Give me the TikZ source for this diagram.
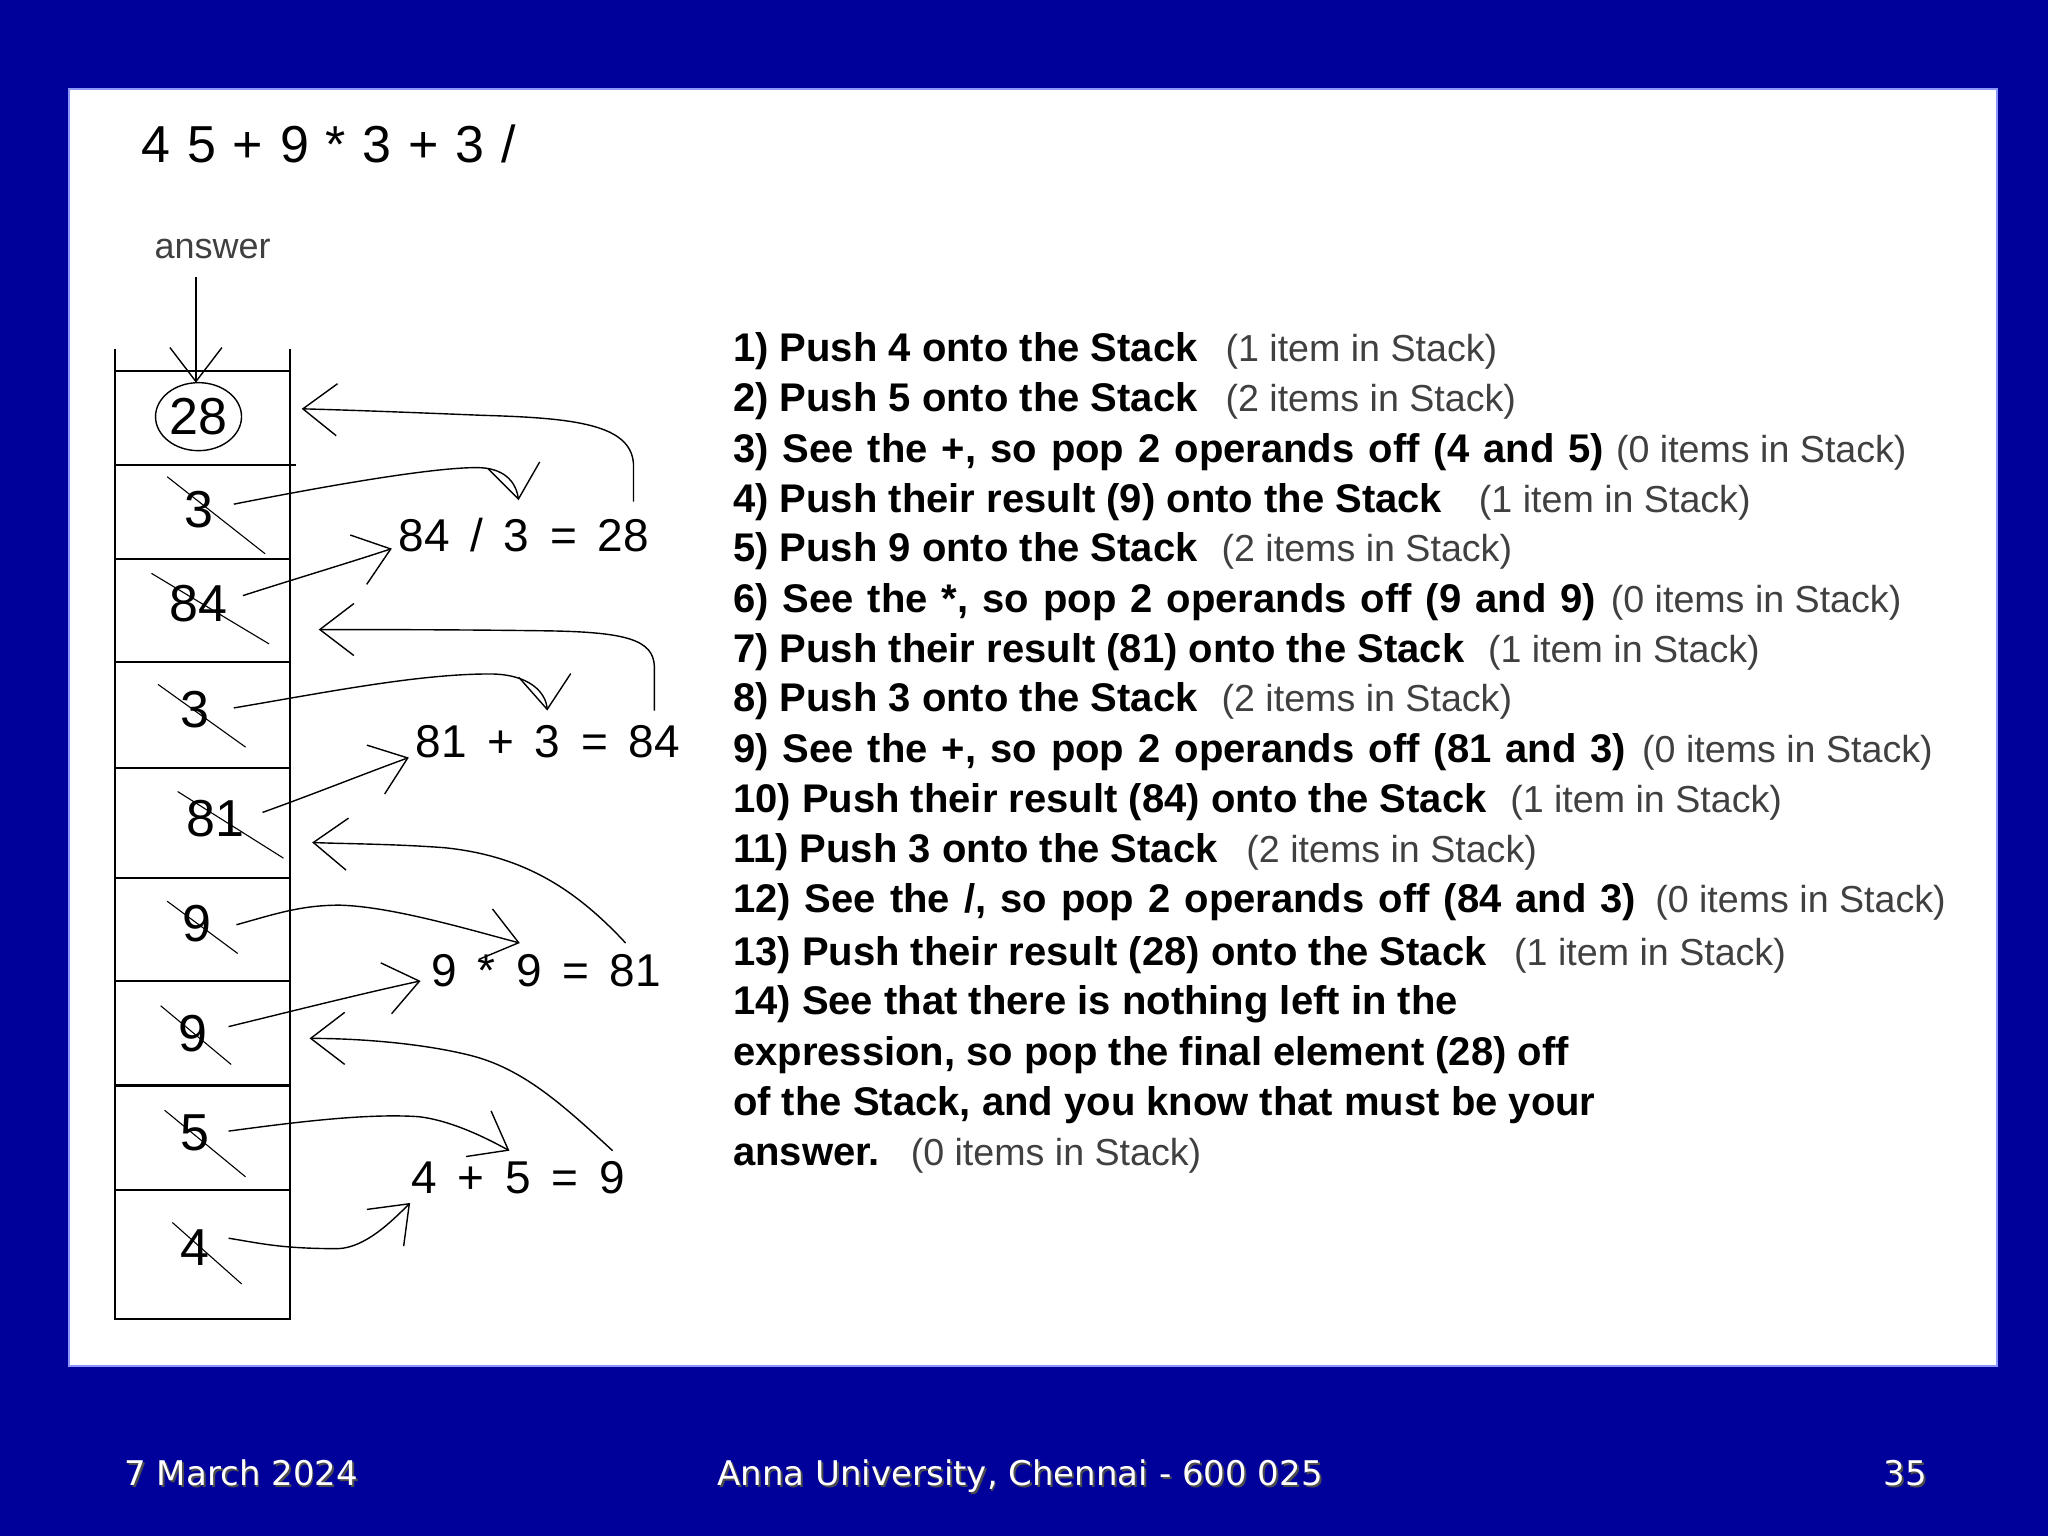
\documentclass[tikz,border=0pt]{standalone}
\usepackage{fontspec}
\setmainfont{Liberation Sans}
\newfontfamily\footfont{DejaVu Sans}
\usetikzlibrary{arrows.meta}
\definecolor{slideblue}{RGB}{0,0,155}
\definecolor{edgeblue}{RGB}{140,150,255}
\newcommand{\eqgap}{\hspace{10.3pt}}
\newcommand{\exgap}{\hspace{8.4pt}}
\newcommand{\widesp}{\spaceskip=7pt\relax}
\begin{document}
\begin{tikzpicture}[x=0.653pt,y=-0.653pt,
  steptext/.style={anchor=base west,inner sep=0pt,font=\fontsize{20}{24}\selectfont\bfseries},
  parentext/.style={anchor=base west,inner sep=0pt,text=black!75,font=\fontsize{18.8}{22}\selectfont},
  cellnum/.style={inner sep=0pt,font=\fontsize{26}{30}\selectfont},
  eqtext/.style={anchor=west,inner sep=0pt,font=\fontsize{23}{27}\selectfont},
  stackline/.style={line width=1.1pt},
  crossline/.style={line width=0.55pt},
  arrowcurve/.style={line width=0.7pt,-{Straight Barb[length=17pt,width=26pt,line width=0.7pt]}},
  footshadow/.style={anchor=base west,inner sep=0pt,text=black!70,font=\footfont\fontsize{17}{20}\selectfont},
  foottext/.style={anchor=base west,inner sep=0pt,text=white,font=\footfont\fontsize{17}{20}\selectfont}]
\useasboundingbox (0,0) rectangle (1568,1176);
\fill[slideblue] (0,0) rectangle (1568,1176);
\draw[edgeblue,line width=0.8pt,fill=white] (53,68) rectangle (1529,1046);

% expression
\node[anchor=west,inner sep=0pt,font=\fontsize{26}{30}\selectfont] (expr) at (108,110)
  {4\exgap5\exgap+\exgap9\exgap*\exgap3\exgap+\exgap3\exgap/};

% answer label
\node[anchor=base west,inner sep=0pt,text=black!75,font=\fontsize{18}{22}\selectfont] (ans) at (118,198) {answer};

% stack
\draw[stackline] (88,267) -- (88,1010) -- (222,1010) -- (222,267);
\draw[stackline] (88,284) -- (222,284);
\draw[stackline] (88,356) -- (227,356);
\foreach \yy in {428,507,588,672,751,831,911}
  \draw[stackline] (88,\yy) -- (222,\yy);

% cell contents
\node[cellnum] (c1) at (152,319) {28};
\node[cellnum] (c2) at (152,390) {3};
\node[cellnum] (c3) at (152,462) {84};
\node[cellnum] (c4) at (149,543) {3};
\node[cellnum] (c5) at (165,627) {81};
\node[cellnum] (c6) at (151,707) {9};
\node[cellnum] (c7) at (148,791) {9};
\node[cellnum] (c8) at (149,867) {5};
\node[cellnum] (c9) at (149,955) {4};
\draw[line width=0.7pt] (c1.center) ellipse [x radius=21.5pt, y radius=17pt];

% crossing-out lines
\draw[crossline] (128,365) -- (203,424);
\draw[crossline] (116,439) -- (206,493);
\draw[crossline] (121,524) -- (188,572);
\draw[crossline] (136,606) -- (217,657);
\draw[crossline] (128,690) -- (182,730);
\draw[crossline] (123,770) -- (177,815);
\draw[crossline] (126,850) -- (188,901);
\draw[crossline] (132,936) -- (185,983);

% equations
\node[eqtext] (e1) at (305,410) {84\eqgap/\eqgap3\eqgap=\eqgap28};
\node[eqtext] (e2) at (318,568) {81\eqgap+\eqgap3\eqgap=\eqgap84};
\node[eqtext] (e3) at (330,743) {9\eqgap*\eqgap9\eqgap=\eqgap81};
\node[eqtext] (e4) at (315,902) {4\eqgap+\eqgap5\eqgap=\eqgap9};

% connector end points
\coordinate (ansS) at (150,212);  \coordinate (ansT) at (150,293);
\coordinate (a1s) at (175,948);   \coordinate (a1t) at (314,921);
\coordinate (a2s) at (175,866);   \coordinate (a2t) at (390,881);
\coordinate (a3s) at (469,881);   \coordinate (a3t) at (237,795);
\coordinate (a4s) at (175,786);   \coordinate (a4t) at (322,751);
\coordinate (a5s) at (181,708);   \coordinate (a5t) at (398,722);
\coordinate (a6s) at (479,722);   \coordinate (a6t) at (239,645);
\coordinate (a7s) at (201,622);   \coordinate (a7t) at (313,580);
\coordinate (a8s) at (179,542);   \coordinate (a8t) at (419,544);
\coordinate (a9s) at (501,544);   \coordinate (a9t) at (244,482);
\coordinate (a10s) at (186,456);  \coordinate (a10t) at (300,420);
\coordinate (a11s) at (179,386);  \coordinate (a11t) at (397,383);
\coordinate (a12s) at (485,384);  \coordinate (a12t) at (231,313);

% connectors
\draw[arrowcurve] (ansS) -- (ansT);
\draw[arrowcurve] (a1s) .. controls (200,952) and (215,956) .. (259,956) .. controls (280,955) and (300,935) .. (a1t);
\draw[arrowcurve] (a2s) .. controls (220,860) and (280,852) .. (321,855) .. controls (345,858) and (370,870) .. (a2t);
\draw[arrowcurve] (a3s) .. controls (430,845) and (400,818) .. (360,808) .. controls (320,798) and (270,795) .. (a3t);
\draw[arrowcurve] (a4s) .. controls (220,775) and (280,760) .. (a4t);
\draw[arrowcurve] (a5s) .. controls (210,700) and (230,693) .. (260,693) .. controls (300,694) and (360,712) .. (a5t);
\draw[arrowcurve] (a6s) .. controls (440,680) and (400,655) .. (340,649) .. controls (300,646) and (260,646) .. (a6t);
\draw[arrowcurve] (a7s) .. controls (240,608) and (280,592) .. (a7t);
\draw[arrowcurve] (a8s) .. controls (250,530) and (320,516) .. (375,516) .. controls (405,516) and (418,530) .. (a8t);
\draw[arrowcurve] (a9s) -- (501,510) .. controls (500,490) and (480,484) .. (420,483) .. controls (350,482) and (280,482) .. (a9t);
\draw[arrowcurve] (a10s) .. controls (220,445) and (270,430) .. (a10t);
\draw[arrowcurve] (a11s) .. controls (250,372) and (330,358) .. (365,358) .. controls (385,358) and (395,368) .. (a11t);
\draw[arrowcurve] (a12s) -- (485,355) .. controls (483,325) and (440,320) .. (370,318) .. controls (320,316) and (270,314) .. (a12t);

% steps
\node[steptext] (s1) at (561,277) {1) Push 4 onto the Stack};
\node[parentext] (p1) at (938,277) {(1 item in Stack)};
\node[steptext] (s2) at (561,315) {2) Push 5 onto the Stack};
\node[parentext] (p2) at (938,315) {(2 items in Stack)};
\node[steptext] (s3) at (561,354) {\widesp 3) See the +, so pop 2 operands off (4 and 5)};
\node[parentext] (p3) at (1237,354) {(0 items in Stack)};
\node[steptext] (s4) at (561,392) {4) Push their result (9) onto the Stack};
\node[parentext] (p4) at (1132,392) {(1 item in Stack)};
\node[steptext] (s5) at (561,430) {5) Push 9 onto the Stack};
\node[parentext] (p5) at (935,430) {(2 items in Stack)};
\node[steptext] (s6) at (561,469) {\widesp 6) See the *, so pop 2 operands off (9 and 9)};
\node[parentext] (p6) at (1233,469) {(0 items in Stack)};
\node[steptext] (s7) at (561,507) {7) Push their result (81) onto the Stack};
\node[parentext] (p7) at (1139,507) {(1 item in Stack)};
\node[steptext] (s8) at (561,545) {8) Push 3 onto the Stack};
\node[parentext] (p8) at (935,545) {(2 items in Stack)};
\node[steptext] (s9) at (561,584) {\widesp 9) See the +, so pop 2 operands off (81 and 3)};
\node[parentext] (p9) at (1257,584) {(0 items in Stack)};
\node[steptext] (s10) at (561,622) {10) Push their result (84) onto the Stack};
\node[parentext] (p10) at (1156,622) {(1 item in Stack)};
\node[steptext] (s11) at (561,660) {11) Push 3 onto the Stack};
\node[parentext] (p11) at (954,660) {(2 items in Stack)};
\node[steptext] (s12) at (561,699) {\widesp 12) See the /, so pop 2 operands off (84 and 3)};
\node[parentext] (p12) at (1267,699) {(0 items in Stack)};
\node[steptext] (s13) at (561,739) {13) Push their result (28) onto the Stack};
\node[parentext] (p13) at (1159,739) {(1 item in Stack)};
\node[steptext] (s14) at (561,777) {14) See that there is nothing left in the};
\node[steptext] (s15) at (561,816) {expression, so pop the final element (28) off};
\node[steptext] (s16) at (561,854) {of the Stack, and you know that must be your};
\node[steptext] (s17) at (561,892) {answer.};
\node[parentext] (p14) at (697,892) {(0 items in Stack)};

% footer
\node[footshadow] (f1s) at (96.5,1138.5) {7 March 2024};
\node[foottext] (f1) at (95,1137) {7 March 2024};
\node[footshadow] (f2s) at (550.5,1138.5) {Anna University, Chennai - 600 025};
\node[foottext] (f2) at (549,1137) {Anna University, Chennai - 600 025};
\node[footshadow] (f3s) at (1443.5,1138.5) {35};
\node[foottext] (f3) at (1442,1137) {35};
\end{tikzpicture}
\end{document}
